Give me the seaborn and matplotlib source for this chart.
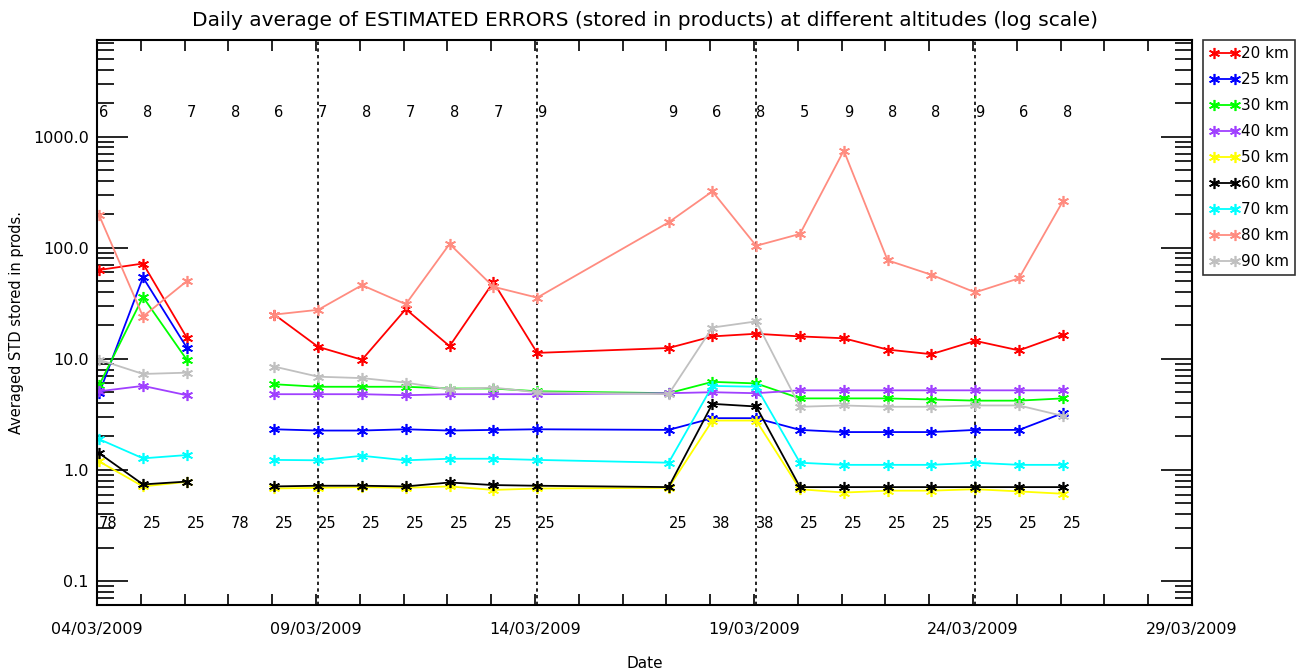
import numpy as np
import pandas as pd
import matplotlib
matplotlib.use("Agg")
import matplotlib.pyplot as plt
import matplotlib.dates as mdates
from matplotlib.lines import Line2D
from matplotlib.ticker import FixedLocator, FuncFormatter, LogLocator, NullFormatter
import seaborn as sns

# ---- data -----------------------------------------------------------------
days = ["2009-03-04", "2009-03-05", "2009-03-06", "2009-03-07", "2009-03-08",
        "2009-03-09", "2009-03-10", "2009-03-11", "2009-03-12", "2009-03-13",
        "2009-03-14", "2009-03-17", "2009-03-18", "2009-03-19", "2009-03-20",
        "2009-03-21", "2009-03-22", "2009-03-23", "2009-03-24", "2009-03-25",
        "2009-03-26"]

nan = np.nan
alt_20 = [63, 72, 15.5, nan, 25, 12.8, 9.8, 28, 13, 49, 11.3,
          12.5, 15.9, 16.8, 15.9, 15.3, 12.1, 11.0, 14.5, 11.9, 16.5]
alt_25 = [4.9, 54, 12.6, nan, 2.32, 2.26, 2.26, 2.32, 2.26, 2.29, 2.32,
          2.29, 2.92, 2.92, 2.29, 2.19, 2.19, 2.19, 2.29, 2.29, 3.24]
alt_30 = [5.8, 36, 9.8, nan, 5.9, 5.6, 5.6, 5.6, 5.4, 5.4, 5.1,
          4.9, 6.2, 6.0, 4.4, 4.4, 4.4, 4.3, 4.2, 4.2, 4.4]
alt_40 = [5.1, 5.7, 4.7, nan, 4.8, 4.8, 4.8, 4.7, 4.8, 4.8, 4.8,
          4.9, 5.0, 4.9, 5.2, 5.2, 5.2, 5.2, 5.2, 5.2, 5.2]
alt_50 = [1.19, 0.71, 0.78, nan, 0.68, 0.69, 0.70, 0.69, 0.71, 0.66, 0.68,
          0.69, 2.78, 2.78, 0.67, 0.625, 0.65, 0.65, 0.67, 0.64, 0.61]
alt_60 = [1.41, 0.74, 0.785, nan, 0.71, 0.72, 0.72, 0.71, 0.77, 0.73, 0.72,
          0.70, 3.93, 3.72, 0.70, 0.70, 0.70, 0.70, 0.70, 0.70, 0.70]
alt_70 = [1.89, 1.27, 1.36, nan, 1.23, 1.22, 1.34, 1.22, 1.26, 1.26, 1.23,
          1.16, 5.7, 5.6, 1.16, 1.11, 1.11, 1.11, 1.16, 1.11, 1.11]
alt_80 = [195, 24, 50, nan, 25, 27.6, 46, 31, 108, 44.5, 35.5,
          169, 321, 104, 133, 748, 77, 57, 39.6, 53, 261]
alt_90 = [9.8, 7.3, 7.5, nan, 8.5, 6.9, 6.7, 6.1, 5.3, 5.5, 5.0,
          4.8, 19.1, 21.7, 3.7, 3.8, 3.7, 3.7, 3.8, 3.8, 3.06]

# number of files (top row) and number of profiles (bottom row) per day
n_files = [6, 8, 7, 8, 6, 7, 8, 7, 8, 7, 9, 9, 6, 8, 5, 9, 8, 8, 9, 6, 8]
n_profiles = [78, 25, 25, 78, 25, 25, 25, 25, 25, 25, 25,
              25, 38, 38, 25, 25, 25, 25, 25, 25, 25]

altitudes = ["20 km", "25 km", "30 km", "40 km", "50 km",
             "60 km", "70 km", "80 km", "90 km"]
series = [alt_20, alt_25, alt_30, alt_40, alt_50, alt_60, alt_70, alt_80, alt_90]
colors = ["#ff0000", "#0000ff", "#00ff00", "#a040ff", "#ffff00",
          "#000000", "#00ffff", "#ff8c80", "#c0c0c0"]

marked_days = ["2009-03-09", "2009-03-14", "2009-03-19", "2009-03-24"]

# ---- build long table -------------------------------------------------------
obs_offset = pd.Timedelta(hours=1.2)
times = pd.to_datetime(days) + obs_offset
frames = []
for name, vals in zip(altitudes, series):
    v = np.asarray(vals, dtype=float)
    seg = np.cumsum(np.isnan(v))
    frames.append(pd.DataFrame({"time": times, "value": v,
                                "altitude": name, "segment": seg}))
df = pd.concat(frames, ignore_index=True).dropna()

# ---- figure -----------------------------------------------------------------
sns.set_style("ticks")
plt.rcParams["font.family"] = ["DejaVu Sans"]
plt.rcParams["text.color"] = "black"
plt.rcParams["axes.labelcolor"] = "black"
plt.rcParams["xtick.color"] = "black"
plt.rcParams["ytick.color"] = "black"

fig = plt.figure(figsize=(13.03, 6.70), dpi=100)
ax = fig.add_axes([97 / 1303, 1 - 605 / 670, (1192 - 97) / 1303, (605 - 40) / 670])

palette = dict(zip(altitudes, colors))
sns.lineplot(data=df, x="time", y="value", hue="altitude", units="segment",
             estimator=None, palette=palette, hue_order=altitudes,
             marker=(6, 2, 0), markersize=8, linewidth=1.3, legend=False,
             sort=True, ax=ax)
for ln in ax.lines:
    ln.set_markeredgecolor(ln.get_color())
    ln.set_markeredgewidth(1.2)

ax.set_yscale("log")
x0 = pd.Timestamp("2009-03-04")
x1 = pd.Timestamp("2009-03-29")
ax.set_xlim(x0, x1)
ax.set_ylim(0.0608, 7400)

for d in marked_days:
    ax.axvline(pd.Timestamp(d) + obs_offset, color="black", linestyle=(0, (2, 2)),
               linewidth=1.2, zorder=1)

# counts written above and below the curves
for t, a, b in zip(times, n_files, n_profiles):
    ax.text(t, 1500, str(a), ha="left", va="baseline", fontsize=10.5)
    ax.text(t, 0.30, str(b), ha="left", va="baseline", fontsize=10.5)

# axes, ticks
major_dates = pd.date_range("2009-03-04", "2009-03-29", freq="5D")
ax.xaxis.set_major_locator(FixedLocator(mdates.date2num(major_dates)))
ax.xaxis.set_major_formatter(mdates.DateFormatter("%d/%m/%Y"))
ax.xaxis.set_minor_locator(mdates.DayLocator())
ax.yaxis.set_major_locator(LogLocator(base=10, numticks=10))
ax.yaxis.set_minor_locator(LogLocator(base=10, subs=np.arange(2, 10), numticks=10))
ax.yaxis.set_minor_formatter(NullFormatter())
ax.yaxis.set_major_formatter(FuncFormatter(lambda v, p: f"{v:.1f}"))

ax.tick_params(axis="both", which="both", direction="in", top=True, right=True,
               colors="black", labelsize=11.5)
ax.tick_params(axis="x", which="major", length=8, width=1.2, pad=12)
ax.tick_params(axis="x", which="minor", length=8, width=1.2)
ax.tick_params(axis="y", which="major", length=22, width=1.2, pad=6)
ax.tick_params(axis="y", which="minor", length=12, width=1.2)
for s in ax.spines.values():
    s.set_linewidth(1.5)
    s.set_color("black")

ax.set_xlabel("Date", fontsize=11, labelpad=14)
ax.set_ylabel("Averaged STD stored in prods.", fontsize=10.5, labelpad=6)
ax.set_title("Daily average of ESTIMATED ERRORS (stored in products) at different "
             "altitudes (log scale)", fontsize=14.5, pad=10)

# legend with a marker at both ends of each line
handles = [Line2D([], [], color=c, marker=(6, 2, 0), markersize=8,
                  markeredgewidth=1.2, linewidth=1.3) for c in colors]
leg = fig.legend(handles, altitudes, loc="upper left",
                 bbox_to_anchor=(1203 / 1303, 1 - 40 / 670), numpoints=2,
                 handlelength=2.0, handletextpad=0.1, labelspacing=0.72,
                 borderpad=0.4, borderaxespad=0, fontsize=11, frameon=True,
                 fancybox=False, edgecolor="black")
leg.get_frame().set_linewidth(1.2)

fig.savefig("out.png", dpi=100)
